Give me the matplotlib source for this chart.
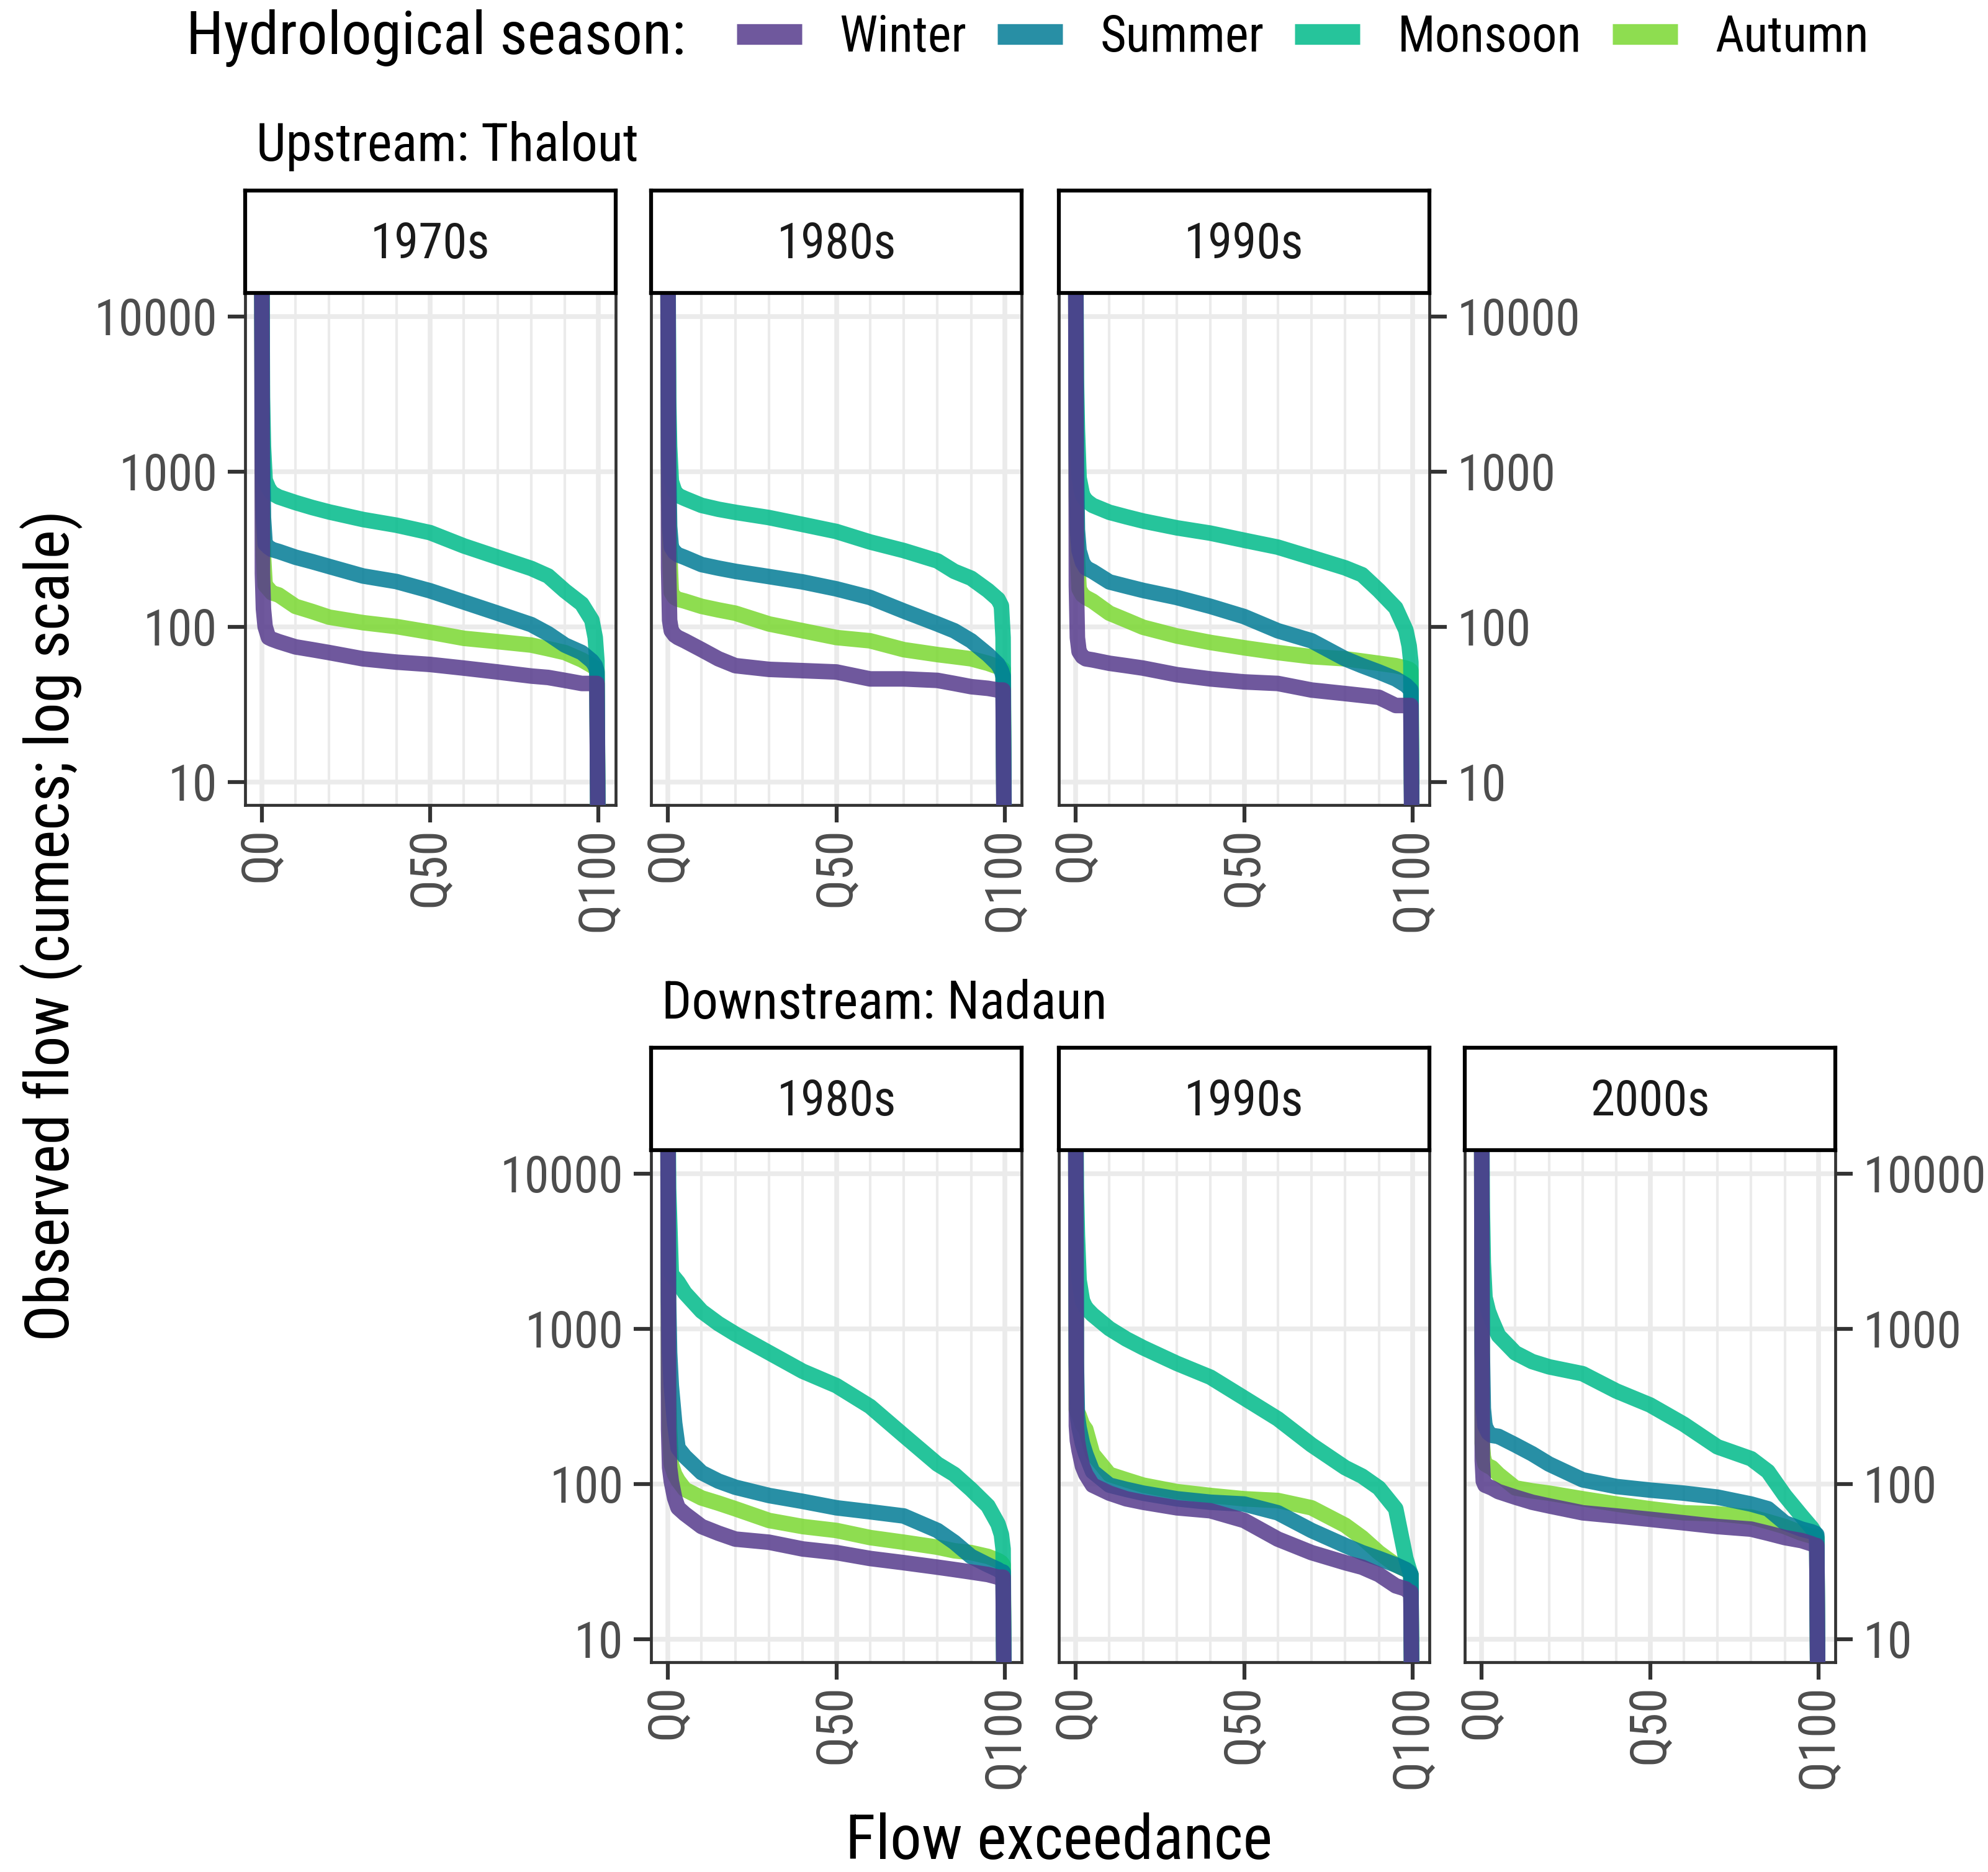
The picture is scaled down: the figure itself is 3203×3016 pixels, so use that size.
import matplotlib.pyplot as plt
from matplotlib.ticker import FixedLocator, FixedFormatter, NullLocator

plt.rcParams['font.family'] = ['Liberation Sans Narrow', 'Arial Narrow', 'Roboto Condensed',
                               'Archivo Narrow', 'PT Sans Narrow', 'Liberation Sans', 'DejaVu Sans']

# flow exceedance (%) at which each curve was read
exceedance = [0, 0.2, 0.5, 1, 2, 3, 5, 10, 15, 20, 30, 40, 50, 60, 70, 80, 85, 90, 95, 98, 99, 99.5, 100]

seasons = ['Winter', 'Summer', 'Monsoon', 'Autumn']
season_colors = {'Winter': '#563b8c', 'Summer': '#027c96', 'Monsoon': '#00ba8a', 'Autumn': '#7ad831'}
draw_order = ['Autumn', 'Monsoon', 'Summer', 'Winter']

# Upstream: Thalout
up_1970s_winter = [30000, 220, 130, 100, 85, 83, 80, 74, 71, 68, 62, 59, 57, 54, 51, 48, 47, 45, 43, 43, 43, 43, 1]
up_1970s_summer = [30000, 1500, 504, 341, 325, 314, 305, 280, 262, 244, 212, 195, 170, 144, 122, 103, 90, 76, 68, 60, 56, 51, 1]
up_1970s_monsoon = [30000, 3000, 1450, 880, 780, 724, 685, 630, 585, 548, 490, 450, 403, 331, 280, 237, 212, 170, 140, 110, 85, 60, 1]
up_1970s_autumn = [30000, 800, 288, 185, 175, 165, 160, 135, 125, 115, 106, 100, 92, 84, 80, 76, 72, 68, 61, 56, 54, 52, 1]

up_1980s_winter = [30000, 239, 110, 94, 88, 85, 81, 71, 62, 56, 53, 52, 51, 46, 46, 45, 43, 41, 40, 39, 39, 39, 1]
up_1980s_summer = [30000, 1200, 443, 325, 301, 290, 279, 251, 238, 227, 210, 194, 175, 154, 126, 104, 94, 81, 66, 57, 52, 48, 1]
up_1980s_monsoon = [30000, 3000, 1449, 866, 742, 700, 669, 604, 570, 545, 504, 455, 410, 351, 309, 265, 227, 205, 171, 150, 136, 85, 1]
up_1980s_autumn = [30000, 700, 309, 166, 154, 150, 146, 135, 128, 122, 104, 94, 85, 81, 71, 66, 64, 62, 58, 55, 54, 53, 1]

up_1990s_winter = [30000, 184, 85, 69, 64, 62, 61, 58, 56, 54, 49, 46, 44, 43, 39, 37, 36, 35, 31, 31, 31, 31, 1]
up_1990s_summer = [30000, 1300, 421, 309, 260, 239, 227, 194, 182, 171, 154, 135, 116, 94, 81, 62, 56, 51, 46, 42, 40, 39, 1]
up_1990s_monsoon = [30000, 4000, 1875, 911, 705, 650, 604, 545, 510, 479, 433, 400, 360, 325, 279, 239, 216, 171, 132, 95, 75, 59, 1]
up_1990s_autumn = [30000, 700, 294, 175, 160, 154, 146, 122, 110, 99, 87, 79, 73, 68, 64, 62, 60, 58, 56, 54, 53, 52, 1]

# Downstream: Nadaun
down_1980s_winter = [30000, 225, 127, 104, 81, 70, 64, 53, 48, 44, 42, 38, 36, 33, 31, 29, 28, 27, 26, 25, 25, 25, 1]
down_1980s_summer = [30000, 1500, 700, 430, 246, 170, 150, 118, 104, 95, 84, 77, 70, 66, 62, 50, 42, 34, 30, 28, 27, 27, 1]
down_1980s_monsoon = [30000, 8000, 5000, 2250, 2115, 1990, 1700, 1294, 1076, 923, 700, 531, 429, 315, 205, 134, 115, 92, 72, 55, 47, 38, 1]
down_1980s_autumn = [30000, 410, 225, 134, 115, 105, 92, 81, 75, 69, 58, 53, 50, 45, 42, 39, 37, 36, 34, 32, 31, 30, 1]

down_1990s_winter = [30000, 236, 190, 164, 130, 115, 98, 87, 80, 76, 70, 67, 58, 44, 36, 31, 29, 26, 22, 21, 20, 20, 1]
down_1990s_summer = [30000, 600, 276, 230, 182, 155, 120, 98, 92, 87, 80, 76, 74, 65, 50, 40, 36, 33, 30, 28, 27, 26, 1]
down_1990s_monsoon = [30000, 8000, 4020, 2055, 1510, 1362, 1229, 1000, 857, 753, 597, 486, 357, 262, 178, 127, 112, 94, 69, 33, 28, 26, 1]
down_1990s_autumn = [30000, 300, 290, 276, 240, 224, 156, 115, 106, 98, 89, 84, 80, 78, 70, 54, 45, 36, 30, 28, 27, 26, 1]

down_2000s_winter = [30000, 141, 104, 98, 96, 94, 89, 82, 76, 72, 65, 62, 59, 56, 53, 51, 48, 45, 43, 41, 40, 40, 1]
down_2000s_summer = [30000, 700, 306, 236, 213, 205, 202, 178, 156, 134, 106, 96, 91, 87, 82, 74, 69, 56, 51, 49, 48, 47, 1]
down_2000s_monsoon = [30000, 6000, 2660, 1590, 1294, 1137, 902, 697, 613, 567, 512, 396, 322, 242, 173, 145, 120, 84, 62, 52, 48, 45, 1]
down_2000s_autumn = [30000, 182, 150, 134, 130, 127, 115, 94, 90, 87, 80, 74, 69, 65, 64, 61, 57, 53, 48, 46, 46, 45, 1]

W, H = 3203, 3016
fig = plt.figure(figsize=(W / 100, H / 100), dpi=100)

def fx(px):
    return px / W

def fy(py):
    return 1 - py / H

PW, PH, SH = 597 / W, 825 / H, 165 / H
col_left = [fx(394.6), fx(1049), fx(1706), fx(2360)]
row_bottom = [fy(1297), fy(2678)]

def draw_panel(row, col, decade, series, side):
    left, bottom = col_left[col], row_bottom[row]
    ax = fig.add_axes([left, bottom, PW, PH])
    lines = {}
    for s in draw_order:
        lines[s], = ax.plot(exceedance, series[s], color=season_colors[s], lw=18, alpha=0.85,
                            solid_joinstyle='round', solid_capstyle='butt', zorder=3)
    ax.set_yscale('log')
    ax.set_ylim(10 ** 0.85, 10 ** 4.15)
    ax.set_xlim(-5, 105)
    ax.xaxis.set_major_locator(FixedLocator([0, 50, 100]))
    ax.xaxis.set_major_formatter(FixedFormatter(['Q0', 'Q50', 'Q100']))
    ax.xaxis.set_minor_locator(FixedLocator([10, 20, 30, 40, 60, 70, 80, 90]))
    ax.yaxis.set_major_locator(FixedLocator([10, 100, 1000, 10000]))
    ax.yaxis.set_major_formatter(FixedFormatter(['10', '100', '1000', '10000']))
    ax.yaxis.set_minor_locator(NullLocator())
    ax.grid(True, which='major', color='#ebebeb', lw=5.5, zorder=0)
    ax.grid(True, which='minor', axis='x', color='#ebebeb', lw=3, zorder=0)
    ax.set_axisbelow(True)
    for sp in ax.spines.values():
        sp.set_color('#333333')
        sp.set_linewidth(3.4)
    ax.tick_params(which='major', length=20, width=4.5, color='#333333',
                   labelsize=58, labelcolor='#4d4d4d', pad=10)
    ax.tick_params(which='minor', length=0)
    ax.tick_params(axis='x', labelrotation=90, pad=6)
    if side == 'left':
        ax.tick_params(axis='y', left=True, labelleft=True, right=False, labelright=False, pad=12)
    elif side == 'right':
        ax.tick_params(axis='y', left=False, labelleft=False, right=True, labelright=True, pad=12)
    else:
        ax.tick_params(axis='y', left=False, labelleft=False)
    strip = fig.add_axes([left, bottom + PH, PW, SH])
    strip.set_xticks([])
    strip.set_yticks([])
    strip.set_facecolor('white')
    for sp in strip.spines.values():
        sp.set_color('black')
        sp.set_linewidth(4.5)
    strip.text(0.5, 0.47, decade, ha='center', va='center', fontsize=57, color='#1a1a1a',
               transform=strip.transAxes)
    return lines

up_lines = draw_panel(0, 0, '1970s', {'Winter': up_1970s_winter, 'Summer': up_1970s_summer,
                                      'Monsoon': up_1970s_monsoon, 'Autumn': up_1970s_autumn}, 'left')
draw_panel(0, 1, '1980s', {'Winter': up_1980s_winter, 'Summer': up_1980s_summer,
                           'Monsoon': up_1980s_monsoon, 'Autumn': up_1980s_autumn}, 'none')
draw_panel(0, 2, '1990s', {'Winter': up_1990s_winter, 'Summer': up_1990s_summer,
                           'Monsoon': up_1990s_monsoon, 'Autumn': up_1990s_autumn}, 'right')
draw_panel(1, 1, '1980s', {'Winter': down_1980s_winter, 'Summer': down_1980s_summer,
                           'Monsoon': down_1980s_monsoon, 'Autumn': down_1980s_autumn}, 'left')
draw_panel(1, 2, '1990s', {'Winter': down_1990s_winter, 'Summer': down_1990s_summer,
                           'Monsoon': down_1990s_monsoon, 'Autumn': down_1990s_autumn}, 'none')
draw_panel(1, 3, '2000s', {'Winter': down_2000s_winter, 'Summer': down_2000s_summer,
                           'Monsoon': down_2000s_monsoon, 'Autumn': down_2000s_autumn}, 'right')

# titles and axis labels
fig.text(fx(413), fy(259), 'Upstream: Thalout', fontsize=61, ha='left', va='baseline')
fig.text(fx(1066), fy(1641), 'Downstream: Nadaun', fontsize=61, ha='left', va='baseline')
fig.text(fx(82), fy(1491), 'Observed flow (cumecs; log scale)', fontsize=71, rotation=90,
         ha='center', va='center')
fig.text(fx(1706), fy(2995), 'Flow exceedance', fontsize=73, ha='center', va='baseline')

# legend
fig.text(fx(300), fy(61), 'Hydrological season:', fontsize=70, ha='left', va='center')
leg = fig.legend([up_lines[s] for s in seasons], seasons, loc='center left',
                 bbox_to_anchor=(fx(1187), fy(61)), ncol=4, frameon=False, fontsize=58,
                 handlelength=1.3, handletextpad=0.75, columnspacing=0.62,
                 borderpad=0, borderaxespad=0)
for h in leg.legend_handles:
    h.set_linewidth(24)

fig.savefig('out.png', dpi=100, facecolor='white')
